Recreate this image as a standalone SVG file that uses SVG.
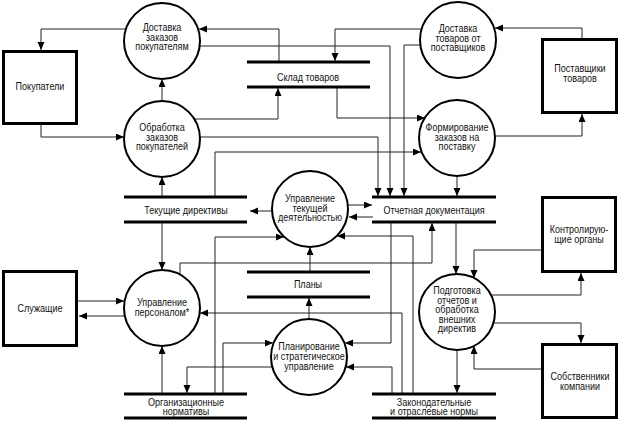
<svg xmlns="http://www.w3.org/2000/svg" width="620" height="422" viewBox="0 0 620 422">
<style>
text{font-family:"Liberation Sans",Arial,sans-serif;font-size:10.5px;fill:#111;text-anchor:middle}
.proc circle{fill:#fff;stroke:#000;stroke-width:2}
.ext rect{fill:#fff;stroke:#000;stroke-width:3}
.store line{stroke:#000;stroke-width:3}
.conn polyline{fill:none;stroke:#222;stroke-width:1;marker-end:url(#ah)}
</style>
<defs>
<marker id="ah" markerUnits="userSpaceOnUse" markerWidth="9" markerHeight="8" refX="8" refY="3.5" orient="auto">
<path d="M0,0 L8,3.5 L0,7 z" fill="#000"/>
</marker>
</defs>
<rect width="620" height="422" fill="#fff"/>

<g class="conn" id="connectors">
<polyline points="126,29 41,29 41,50"/>
<polyline points="279,62 279,29 199,29"/>
<polyline points="199,46 390,46 390,196"/>
<polyline points="422,29 335,29 335,61"/>
<polyline points="420,45 404,45 404,196"/>
<polyline points="582,39 582,28 495,28"/>
<polyline points="495,136 582,136 582,114"/>
<polyline points="337,87 337,118 425,118"/>
<polyline points="215,197 215,152 421,152"/>
<polyline points="457,176 457,196"/>
<polyline points="41,124 41,137 124,137"/>
<polyline points="162,101 162,79"/>
<polyline points="194,119 278,119 278,88"/>
<polyline points="200,137 378,137 378,196"/>
<polyline points="162,197 162,177"/>
<polyline points="272,211 250,211"/>
<polyline points="348,205 372,205"/>
<polyline points="373,217 349,217"/>
<polyline points="215,394 215,237 284,237"/>
<polyline points="413,394 413,236 337,236"/>
<polyline points="310,272 310,247"/>
<polyline points="180,275 180,263 432,263 432,223"/>
<polyline points="391,222 391,343 345,343"/>
<polyline points="392,394 392,367 346,367"/>
<polyline points="402,394 402,313 200,313"/>
<polyline points="162,222 162,270"/>
<polyline points="77,301 124,301"/>
<polyline points="125,316 79,316"/>
<polyline points="162,394 162,346"/>
<polyline points="272,367 187,367 187,393"/>
<polyline points="223,394 223,343 273,343"/>
<polyline points="309,319 309,298"/>
<polyline points="456,222 456,274"/>
<polyline points="542,250 474,250 474,278"/>
<polyline points="491,295 581,295 581,273"/>
<polyline points="492,323 581,323 581,343"/>
<polyline points="542,369 474,369 474,346"/>
<polyline points="457,350 457,393"/>
</g>

<g id="store-sklad" class="store">
<line x1="247" y1="62" x2="370" y2="62"/><line x1="247" y1="87" x2="370" y2="87"/>
<text transform="translate(308,0) scale(.86,1)"><tspan x="0" y="81.5">Склад товаров</tspan></text>
</g>
<g id="store-tekushchie" class="store">
<line x1="124" y1="197" x2="247" y2="197"/><line x1="124" y1="222" x2="247" y2="222"/>
<text transform="translate(186,0) scale(.86,1)"><tspan x="0" y="214.5">Текущие директивы</tspan></text>
</g>
<g id="store-otchetnaya" class="store">
<line x1="372" y1="197" x2="496" y2="197"/><line x1="372" y1="222" x2="496" y2="222"/>
<text transform="translate(434,0) scale(.86,1)"><tspan x="0" y="214.5">Отчетная документация</tspan></text>
</g>
<g id="store-plany" class="store">
<line x1="247" y1="272" x2="370" y2="272"/><line x1="247" y1="297" x2="370" y2="297"/>
<text transform="translate(308,0) scale(.86,1)"><tspan x="0" y="288.5">Планы</tspan></text>
</g>
<g id="store-org" class="store">
<line x1="124" y1="394" x2="247" y2="394"/><line x1="124" y1="418" x2="247" y2="418"/>
<text transform="translate(186,0) scale(.86,1)"><tspan x="0" y="406">Организационные</tspan><tspan x="0" y="415.5">нормативы</tspan></text>
</g>
<g id="store-zak" class="store">
<line x1="372" y1="394" x2="496" y2="394"/><line x1="372" y1="418" x2="496" y2="418"/>
<text transform="translate(434,0) scale(.86,1)"><tspan x="0" y="406">Законодательные</tspan><tspan x="0" y="415.5">и отраслевые нормы</tspan></text>
</g>

<g id="ext-pokupateli" class="ext">
<rect x="3.5" y="51.5" width="73" height="72"/>
<text transform="translate(40,0) scale(.86,1)"><tspan x="0" y="90">Покупатели</tspan></text>
</g>
<g id="ext-postavshchiki" class="ext">
<rect x="542.5" y="39.5" width="74" height="73"/>
<text transform="translate(580,0) scale(.86,1)"><tspan x="0" y="72">Поставщики</tspan><tspan x="0" y="82.5">товаров</tspan></text>
</g>
<g id="ext-sluzhashchie" class="ext">
<rect x="3.5" y="271.5" width="73" height="74"/>
<text transform="translate(40,0) scale(.86,1)"><tspan x="0" y="312.5">Служащие</tspan></text>
</g>
<g id="ext-kontrol" class="ext">
<rect x="542.5" y="197.5" width="73" height="74"/>
<text transform="translate(579,0) scale(.86,1)"><tspan x="0" y="233">Контролирую-</tspan><tspan x="0" y="243.5">щие органы</tspan></text>
</g>
<g id="ext-sobstvenniki" class="ext">
<rect x="542.5" y="344.5" width="74" height="73"/>
<text transform="translate(580,0) scale(.86,1)"><tspan x="0" y="380">Собственники</tspan><tspan x="0" y="390">компании</tspan></text>
</g>

<g id="p-dostavka-pok" class="proc">
<circle cx="162" cy="41" r="38"/>
<text transform="translate(162,0) scale(.86,1)"><tspan x="0" y="31">Доставка</tspan><tspan x="0" y="40.7">заказов</tspan><tspan x="0" y="50.4">покупателям</tspan></text>
</g>
<g id="p-obrabotka" class="proc">
<circle cx="162" cy="139" r="38"/>
<text transform="translate(162,0) scale(.86,1)"><tspan x="0" y="131">Обработка</tspan><tspan x="0" y="140.7">заказов</tspan><tspan x="0" y="150.4">покупателей</tspan></text>
</g>
<g id="p-dostavka-post" class="proc">
<circle cx="458" cy="40" r="38"/>
<text transform="translate(458,0) scale(.86,1)"><tspan x="0" y="32">Доставка</tspan><tspan x="0" y="41.7">товаров от</tspan><tspan x="0" y="51.4">поставщиков</tspan></text>
</g>
<g id="p-formirovanie" class="proc">
<circle cx="457" cy="138" r="38"/>
<text transform="translate(457,0) scale(.86,1)"><tspan x="0" y="131">Формирование</tspan><tspan x="0" y="140.7">заказов на</tspan><tspan x="0" y="150.4">поставку</tspan></text>
</g>
<g id="p-upr-tek" class="proc">
<circle cx="310" cy="209" r="38"/>
<text transform="translate(310,0) scale(.86,1)"><tspan x="0" y="202">Управление</tspan><tspan x="0" y="211.7">текущей</tspan><tspan x="0" y="221.4">деятельностью</tspan></text>
</g>
<g id="p-upr-pers" class="proc">
<circle cx="162" cy="308" r="38"/>
<text transform="translate(162,0) scale(.86,1)"><tspan x="0" y="306">Управление</tspan><tspan x="0" y="316.5">персоналом*</tspan></text>
</g>
<g id="p-planirovanie" class="proc">
<circle cx="309" cy="357" r="38"/>
<text transform="translate(309,0) scale(.86,1)"><tspan x="0" y="350">Планирование</tspan><tspan x="0" y="359.8">и стратегическое</tspan><tspan x="0" y="369.6">управление</tspan></text>
</g>
<g id="p-podgotovka" class="proc">
<circle cx="457" cy="312" r="38"/>
<text transform="translate(457,0) scale(.86,1)"><tspan x="0" y="294.5">Подготовка</tspan><tspan x="0" y="304">отчетов и</tspan><tspan x="0" y="313.5">обработка</tspan><tspan x="0" y="323">внешних</tspan><tspan x="0" y="332.5">директив</tspan></text>
</g>
</svg>
